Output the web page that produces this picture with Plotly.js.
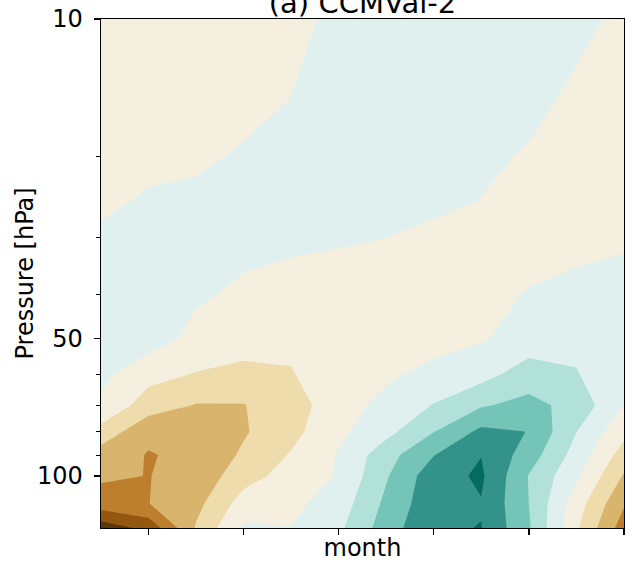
<!DOCTYPE html>
<html>
<head>
<meta charset="utf-8">
<script src="https://cdn.plot.ly/plotly-3.0.1.min.js"></script>
<style>
  html, body { margin: 0; padding: 0; background: #ffffff; }
  #chart { width: 638px; height: 562px; }
</style>
</head>
<body>
<div id="chart"></div>
<script>
// ---- data ----
const months = [1, 2, 3, 4, 5, 6, 7, 8, 9, 10, 11, 12];
const pressures = [10, 15, 20, 25, 30, 40, 50, 60, 70, 80, 90, 100, 115, 130];

// anomaly values per pressure level (one value per month)
const z10  = [-0.40, -0.40, -0.35, -0.35, -0.37, 0.30, 0.45, 0.50, 0.50, 0.45, 0.30, -0.23];
const z15  = [-0.38, -0.33, -0.30, -0.45, 0.02, 0.40, 0.55, 0.55, 0.45, 0.30, -0.22, -0.35];
const z20  = [-0.35, -0.30, -0.25, 0.16, 0.35, 0.50, 0.55, 0.45, 0.20, -0.10, -0.30, -0.40];
const z25  = [-0.25, 0.14, 0.30, 0.40, 0.45, 0.45, 0.40, 0.30, -0.02, -0.30, -0.40, -0.45];
const z30  = [0.20, 0.30, 0.35, 0.30, 0.20, 0.15, 0.01, -0.30, -0.45, -0.50, -0.40, -0.20];
const z40  = [0.40, 0.50, 0.15, -0.18, -0.36, -0.60, -0.45, -0.50, -0.35, 0.07, 0.35, 0.49];
const z50  = [0.30, 0.50, -0.30, -0.60, -0.80, -0.50, -0.40, -0.35, -0.09, 0.40, 0.79, 0.50];
const z60  = [0.25, -0.69, -1.06, -1.245, -1.06, -0.45, -0.14, 0.275, 0.65, 1.50, 1.05, 0.34];
const z70  = [-0.20, -1.465, -2.05, -2.03, -1.50, -0.36, 0.25, 1.05, 1.90, 2.29, 1.67, -0.02];
const z80  = [-1.34, -2.80, -2.50, -2.10, -1.30, -0.22, 0.70, 1.97, 3.24, 2.98, 1.02, -0.70];
const z90  = [-2.50, -3.05, -2.80, -1.85, -0.915, 0.08, 1.60, 2.97, 3.98, 2.50, 0.60, -1.45];
const z100 = [-2.85, -3.02, -2.70, -1.40, -0.60, 0.08, 1.90, 3.60, 4.15, 1.95, 0.18, -2.09];
const z115 = [-3.44, -3.02, -2.30, -0.55, -0.25, 0.47, 2.22, 3.70, 3.95, 2.00, -0.54, -2.90];
const z130 = [-5.60, -4.70, -1.90, 0.14, 0.02, 0.80, 2.50, 3.90, 4.02, 2.10, -0.85, -3.50];

const xTickVals = [2, 4, 6, 8, 10, 12];
const yTickVals = [10, 50, 100];
const yTickText = ['10', '50', '100'];
const yMinorVals = [20, 30, 40, 60, 70, 80, 90];

// BrBG-like discrete colours, one per band (below -5 ... above 5)
const bandColors = ['#5f3706', '#93570f', '#bd7f2d', '#d9b46c', '#efdcad', '#f5efdf',
                    '#e0f0ee', '#b2e1da', '#74c4b8', '#33938b', '#046a62', '#003c30'];

const z = [z10, z15, z20, z25, z30, z40, z50, z60, z70, z80, z90, z100, z115, z130];
const colorscale = bandColors.map((c, i) => [i / (bandColors.length - 1), c]);

const trace = {
  type: 'contour',
  x: months,
  y: pressures,
  z: z,
  autocontour: false,
  contours: { start: -5, end: 5, size: 1, coloring: 'fill', showlines: false },
  line: { width: 0, smoothing: 0 },
  colorscale: colorscale,
  showscale: false,
  hoverinfo: 'skip'
};

const axisFont = { family: 'DejaVu Sans', size: 24, color: '#000000' };

const layout = {
  width: 638,
  height: 562,
  margin: { l: 101, r: 14, t: 19, b: 34, pad: 0 },
  paper_bgcolor: '#ffffff',
  plot_bgcolor: '#ffffff',
  font: axisFont,
  showlegend: false,
  title: {
    text: '(a) CCMVal-2',
    font: { family: 'DejaVu Sans', size: 29, color: '#000000' },
    xref: 'paper', x: 0.5, xanchor: 'center',
    yref: 'container', y: 1 - 3 / 562, yanchor: 'middle'
  },
  xaxis: {
    range: [1, 12],
    tickmode: 'array',
    tickvals: xTickVals,
    showticklabels: false,
    ticks: 'outside', ticklen: 6, tickwidth: 1.3, tickcolor: '#000000',
    showline: true, linecolor: '#000000', linewidth: 1.3, mirror: true,
    showgrid: false, zeroline: false,
    automargin: false,
    title: { text: 'month', font: axisFont, standoff: 10 }
  },
  yaxis: {
    type: 'log',
    range: [Math.log10(130), 1],
    tickmode: 'array',
    tickvals: yTickVals,
    ticktext: yTickText,
    ticks: 'outside', ticklen: 6, tickwidth: 1.3, tickcolor: '#000000',
    ticklabelstandoff: 6,
    minor: { tickmode: 'array', tickvals: yMinorVals, ticks: 'outside', ticklen: 3.5, tickwidth: 1, tickcolor: '#000000', showgrid: false },
    showline: true, linecolor: '#000000', linewidth: 1.3, mirror: true,
    showgrid: false, zeroline: false,
    automargin: false
  },
  annotations: [{
    text: 'Pressure [hPa]',
    font: axisFont,
    textangle: -90,
    xref: 'paper', x: (24 - 101) / 523, xanchor: 'center',
    yref: 'paper', y: 0.5, yanchor: 'middle',
    showarrow: false
  }]
};

Plotly.newPlot('chart', [trace], layout, { staticPlot: true, displayModeBar: false });
</script>
</body>
</html>
